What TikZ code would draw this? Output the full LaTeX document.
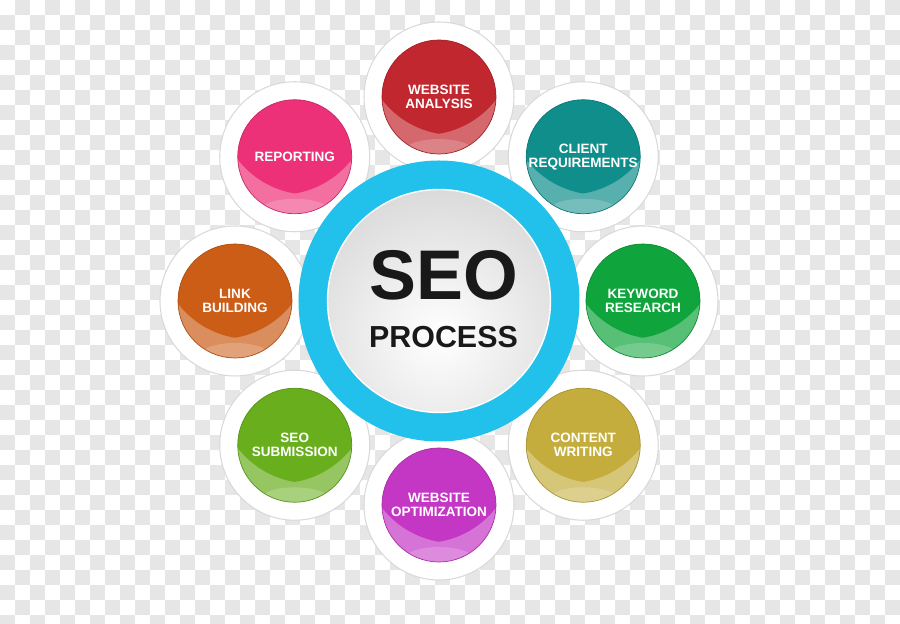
\documentclass[tikz,border=0pt]{standalone}
\usepackage{fontspec}
\setmainfont{Liberation Sans}
\usetikzlibrary{positioning}

\definecolor{checkgray}{HTML}{E6E6E6}
\definecolor{seoblue}{HTML}{22C1EC}
\definecolor{wared}{HTML}{C1272F}
\definecolor{crteal}{HTML}{0F8E8B}
\definecolor{krgreen}{HTML}{0FA53C}
\definecolor{cwolive}{HTML}{C5AD3D}
\definecolor{womagenta}{HTML}{C437C4}
\definecolor{ssgreen}{HTML}{68AE1D}
\definecolor{lborange}{HTML}{CB5D17}
\definecolor{rppink}{HTML}{ED3178}

\begin{document}
\begin{tikzpicture}[
    ring/.style={circle, fill=white, draw=gray!30, line width=0.6pt, minimum size=3cm, inner sep=0pt},
    disk/.style={circle, minimum size=2.28cm, inner sep=0pt, fill=#1!70!white, draw=#1!85!black, line width=0.4pt,
        text=white, align=center, font=\fontsize{7.7}{8}\selectfont\bfseries,
        path picture={
            \begin{scope}
            \clip ([shift={(0.3cm,1.06cm)}]path picture bounding box.center) circle (1.82cm);
            \fill[#1] ([shift={(-0.3cm,1.06cm)}]path picture bounding box.center) circle (1.82cm);
            \end{scope}
            \fill[white, opacity=0.18] ([yshift=-1.14cm]path picture bounding box.center) ellipse (0.75cm and 0.3cm);
        }},
    bluering/.style={circle, fill=seoblue, minimum size=5.62cm, inner sep=0pt},
    core/.style={circle, minimum size=4.46cm, inner sep=0pt, draw=white, line width=0.8pt,
        path picture={
            \shade[inner color=white, outer color=gray!45] ([yshift=-0.7cm]path picture bounding box.center) circle (4.6cm);
        }},
    title/.style={text=black!90, inner sep=0pt, font=\fontsize{40}{40}\selectfont\bfseries},
    subtitle/.style={text=black!90, inner sep=0pt, font=\fontsize{17.3}{18}\selectfont\bfseries}
]
\useasboundingbox (-8.78,-6.46) rectangle (9.22,6.02);

% Background
\begin{scope}
\clip (-8.78,-6.46) rectangle (9.22,6.02);
\fill[white] (-8.78,-6.46) rectangle (9.22,6.02);
\foreach \i in {0,...,41}
  \foreach \j in {0,...,29}
    \fill[checkgray] ({-8.78+0.3*(2*\j+mod(\i+1,2))},{6.02-0.3*\i}) rectangle ++(0.3,-0.3);
\end{scope}

% White rings
\node[ring] (wa-ring) at (90:4.08) {};
\node[ring] (cr-ring) at (45:4.08) {};
\node[ring] (kr-ring) at (0:4.08) {};
\node[ring] (cw-ring) at (-45:4.08) {};
\node[ring] (wo-ring) at (-90:4.08) {};
\node[ring] (ss-ring) at (-135:4.08) {};
\node[ring] (lb-ring) at (180:4.08) {};
\node[ring] (rp-ring) at (135:4.08) {};

% Hub
\node[bluering] (hub) at (0,0) {};
\node[core] (core) at (hub) {};
\node[title] (seotitle) at (0.09,0.52) {SEO};
\node[subtitle, below=0.52cm of seotitle] (seosub) {PROCESS};

% Steps
\node[disk=wared] (wa) at (wa-ring) {WEBSITE\\ANALYSIS};
\node[disk=crteal] (cr) at (cr-ring) {CLIENT\\REQUIREMENTS};
\node[disk=krgreen] (kr) at (kr-ring) {KEYWORD\\RESEARCH};
\node[disk=cwolive] (cw) at (cw-ring) {CONTENT\\WRITING};
\node[disk=womagenta] (wo) at (wo-ring) {WEBSITE\\OPTIMIZATION};
\node[disk=ssgreen] (ss) at (ss-ring) {SEO\\SUBMISSION};
\node[disk=lborange] (lb) at (lb-ring) {LINK\\BUILDING};
\node[disk=rppink] (rp) at (rp-ring) {REPORTING};

\end{tikzpicture}
\end{document}
